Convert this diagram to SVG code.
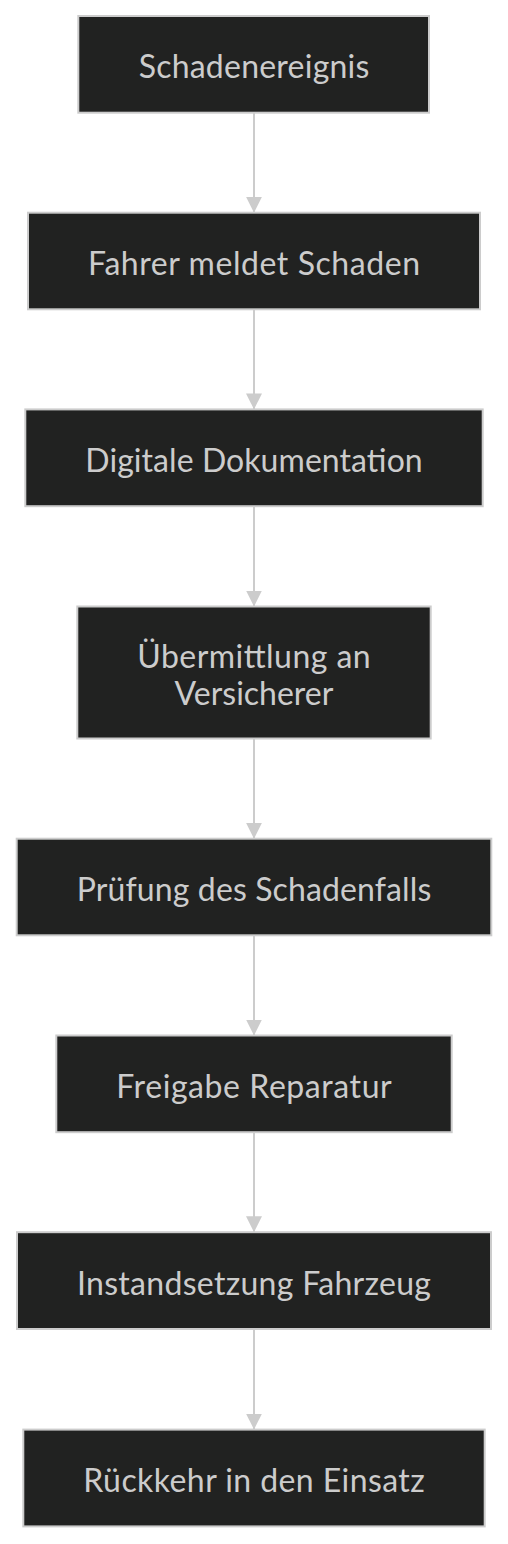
<svg xmlns="http://www.w3.org/2000/svg" width="508" height="1544" viewBox="0 0 508 1544">
<style>
  .bg { fill: #ffffff; }
  .node rect { fill: #212221; stroke: #cccccc; stroke-width: 2; }
  .node text { fill: #cccccc; font-family: Lato, "Open Sans", "Liberation Sans", sans-serif; font-size: 32px; text-anchor: middle; }
  .edge { stroke: #cccccc; stroke-width: 2; fill: none; marker-end: url(#arrow); }
</style>
<defs>
  <marker id="arrow" markerUnits="userSpaceOnUse" viewBox="0 0 16 16" refX="16" refY="8" markerWidth="16" markerHeight="16" orient="auto">
    <path d="M0,0 L16,8 L0,16 z" fill="#cccccc"/>
  </marker>
</defs>
<rect class="bg" x="0" y="0" width="508" height="1544"/>
<g id="connectors">
  <line class="edge" x1="254" y1="112.7" x2="254" y2="212.7"/>
  <line class="edge" x1="254" y1="309.3" x2="254" y2="409.4"/>
  <line class="edge" x1="254" y1="506.2" x2="254" y2="606.5"/>
  <line class="edge" x1="254" y1="738.5" x2="254" y2="838.7"/>
  <line class="edge" x1="254" y1="935.3" x2="254" y2="1035.5"/>
  <line class="edge" x1="254" y1="1132.2" x2="254" y2="1232.2"/>
  <line class="edge" x1="254" y1="1329" x2="254" y2="1429.6"/>
</g>
<g id="node-schadenereignis" class="node">
  <rect x="78.3" y="16" width="350.7" height="96.7"/>
  <text x="254" y="78" textLength="230.7">Schadenereignis</text>
</g>
<g id="node-fahrer-meldet" class="node">
  <rect x="28" y="212.7" width="452" height="96.6"/>
  <text x="254" y="275" textLength="332">Fahrer meldet Schaden</text>
</g>
<g id="node-digitale-doku" class="node">
  <rect x="25.3" y="409.4" width="457.4" height="96.8"/>
  <text x="254" y="471.8" textLength="337.4">Digitale Dokumentation</text>
</g>
<g id="node-uebermittlung" class="node">
  <rect x="77.3" y="606.5" width="353.4" height="132"/>
  <text x="254" y="668"><tspan x="254" y="668" textLength="233.4">Übermittlung an</tspan><tspan x="254" y="705">Versicherer</tspan></text>
</g>
<g id="node-pruefung" class="node">
  <rect x="16.7" y="838.7" width="474.6" height="96.6"/>
  <text x="254" y="901" textLength="354.6">Prüfung des Schadenfalls</text>
</g>
<g id="node-freigabe" class="node">
  <rect x="56.3" y="1035.5" width="395.4" height="96.7"/>
  <text x="254" y="1097.8" textLength="275.4">Freigabe Reparatur</text>
</g>
<g id="node-instandsetzung" class="node">
  <rect x="17" y="1232.2" width="474" height="96.8"/>
  <text x="254" y="1294.5" textLength="354">Instandsetzung Fahrzeug</text>
</g>
<g id="node-rueckkehr" class="node">
  <rect x="23.3" y="1429.6" width="461.4" height="96.8"/>
  <text x="254" y="1492.3" textLength="341.4">Rückkehr in den Einsatz</text>
</g>
</svg>
